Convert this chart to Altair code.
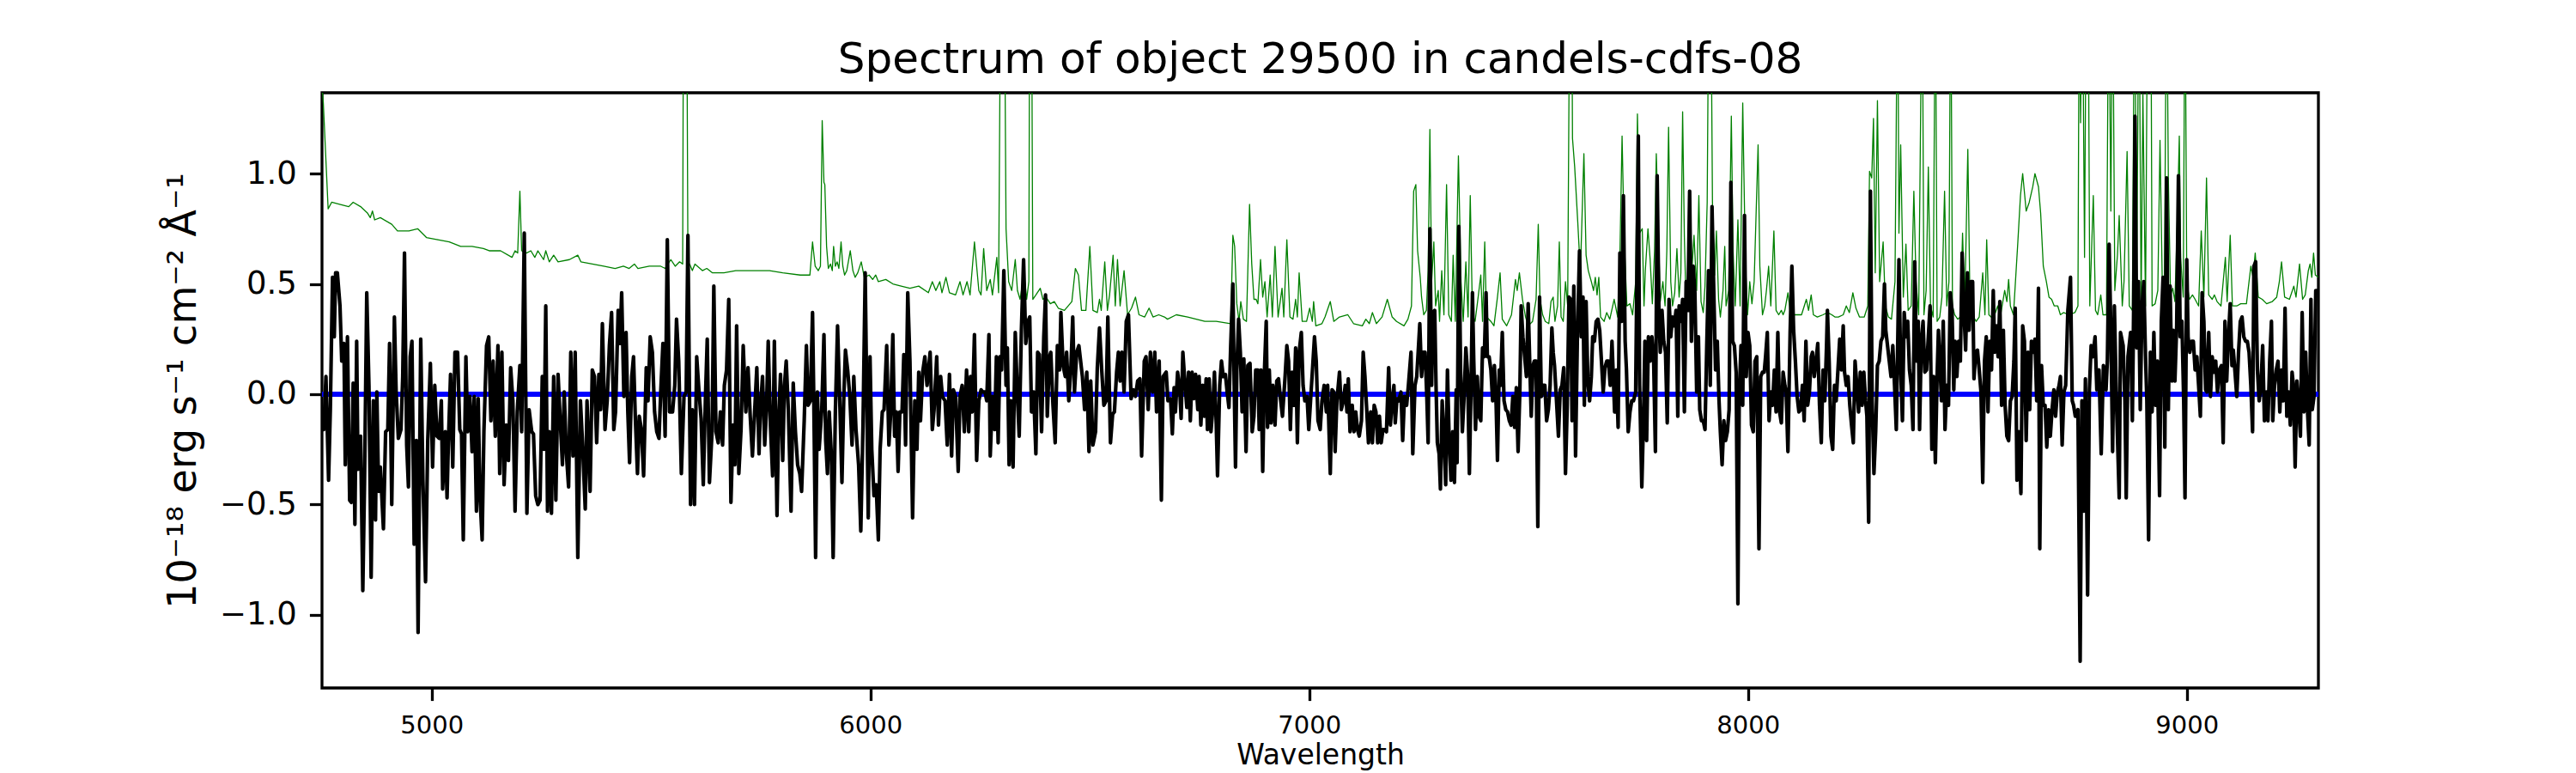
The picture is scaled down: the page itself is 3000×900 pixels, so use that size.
import altair as alt
import pandas as pd

TITLE = "Spectrum of object 29500 in candels-cdfs-08"
X_TICKS = [5000, 6000, 7000, 8000, 9000]
Y_TICKS = [-1.0, -0.5, 0.0, 0.5, 1.0]
X_DOMAIN = [4750, 9300]
Y_DOMAIN = [-1.331, 1.366]

black_seg1 = [(4750,-0.08),(4754,-0.16),(4759,0.08),(4765,-0.39),(4769,-0.07),(4774,0.53),(4778,0.26),(4781,0.55),(4785,0.55),(4791,0.40),(4795,0.15),(4800,0.23),(4803,-0.32),(4808,0.26),(4813,-0.48),(4817,-0.49),(4821,0.05),(4825,-0.59),(4829,0.24),(4832,-0.34),(4838,-0.19),(4843,-0.89),(4847,-0.39),(4852,0.46),(4857,0.04),(4862,-0.83),(4867,-0.03),(4872,-0.57),(4875,0.01),(4879,-0.44),(4883,-0.33),(4890,-0.61),(4895,-0.17),(4900,-0.16),(4904,0.23),(4909,-0.50),(4915,0.35),(4919,0.01),(4924,-0.20),(4930,-0.16),(4934,0.08),(4938,0.64),(4943,-0.23),(4947,-0.42),(4951,0.17),(4955,0.24),(4960,-0.68),(4965,-0.21),(4969,-1.08),(4975,0.25),(4980,-0.39),(4986,-0.85),(4991,-0.21),(4997,0.14),(5002,-0.33),(5007,0.04),(5012,-0.19),(5017,-0.20),(5022,-0.03),(5025,-0.43),(5031,-0.17),(5035,-0.47),(5038,-0.22),(5043,0.09),(5048,-0.33),(5053,0.19),(5059,0.19),(5064,-0.16),(5068,-0.18),(5072,-0.66),(5078,0.17),(5082,-0.17),(5087,-0.01),(5092,-0.26),(5097,-0.01),(5102,-0.53),(5106,-0.02),(5110,-0.46),(5115,-0.66),(5119,-0.17),(5125,0.22),(5130,0.26),(5135,-0.12),(5140,0.15),(5145,-0.19),(5151,0.22),(5155,-0.36),(5160,0.19),(5165,-0.41),(5170,-0.14),(5175,-0.30),(5180,0.12),(5185,-0.03),(5190,-0.53),(5195,-0.08),(5201,0.13),(5205,-0.17),(5211,0.73),(5217,-0.54),(5222,-0.07),(5228,-0.17),(5232,-0.18),(5237,-0.46),(5242,-0.50),(5247,-0.48),(5252,0.08),(5256,-0.25),(5260,0.40),(5264,-0.53),(5268,-0.17),(5273,-0.54),(5278,0.08),(5283,-0.48),(5288,0.09),(5293,-0.12),(5298,-0.32),(5302,0.01),(5307,-0.27),(5312,-0.42),(5317,0.19),(5322,-0.28),(5327,0.19),(5333,-0.74),(5339,-0.03),(5343,-0.19),(5350,-0.52),(5354,-0.03),(5361,-0.44),(5366,0.11),(5371,0.08),(5376,-0.22),(5381,0.09),(5385,-0.07),(5389,0.32),(5395,-0.16),(5400,-0.03),(5405,0.22),(5410,0.37),(5415,-0.16),(5419,-0.08),(5425,0.38),(5429,0.23),(5433,0.46),(5438,-0.01),(5443,0.28),(5447,-0.08),(5451,-0.31),(5456,0.08),(5460,0.17),(5464,-0.10),(5469,-0.36),(5473,-0.10),(5478,-0.16),(5483,-0.37),(5489,0.12),(5493,-0.03),(5498,0.26),(5503,0.19),(5508,-0.08),(5513,-0.17),(5518,-0.20),(5522,0.01),(5527,0.23),(5532,-0.19),(5537,0.70),(5542,-0.08),(5549,-0.08),(5554,0.04),(5558,0.34),(5563,0.15),(5569,-0.36),(5575,-0.01),(5580,0.01),(5584,0.72),(5590,-0.50),(5594,-0.07),(5599,-0.50),(5604,0.17),(5609,0.02),(5614,-0.11),(5619,-0.41),(5624,-0.01),(5628,0.25),(5633,-0.40),(5639,-0.17),(5643,0.49),(5648,-0.17),(5653,-0.22),(5658,-0.08),(5663,-0.23),(5667,0.04),(5672,0.11),(5677,0.43),(5682,-0.49),(5687,-0.14),(5691,-0.32),(5695,0.31),(5700,-0.36),(5705,-0.16),(5710,0.22),(5716,-0.08)]

black_seg2 = [(5721,0.12),(5726,-0.10),(5731,-0.28),(5736,-0.08),(5741,0.12),(5746,-0.27),(5749,-0.07),(5754,0.08),(5759,-0.23),(5763,-0.07),(5767,0.24),(5772,-0.14),(5777,-0.37),(5781,0.24),(5787,-0.55),(5791,-0.10),(5795,0.09),(5800,-0.30),(5804,0.04),(5808,0.15),(5813,-0.08),(5819,-0.53),(5824,0.05),(5829,-0.17),(5834,-0.32),(5839,-0.36),(5843,-0.44),(5849,-0.12),(5854,0.22),(5858,-0.05),(5863,-0.03),(5868,0.37),(5871,-0.05),(5875,-0.74),(5879,0.01),(5883,-0.25),(5889,-0.07),(5894,0.27),(5898,-0.21),(5902,-0.36),(5906,-0.08),(5911,-0.28),(5915,-0.74),(5920,-0.08),(5925,0.31),(5930,-0.03),(5935,-0.40),(5939,-0.03),(5943,0.20),(5948,0.11),(5953,-0.01),(5958,-0.23),(5962,0.08),(5967,-0.16),(5973,-0.32),(5978,-0.62),(5983,-0.14),(5988,0.55),(5992,-0.08),(5995,-0.56),(5999,0.17),(6003,-0.25),(6008,-0.46),(6013,-0.41),(6018,-0.66),(6022,-0.25),(6027,-0.08),(6031,-0.07),(6037,0.22),(6042,-0.23),(6046,-0.09),(6051,0.27),(6055,-0.19),(6059,-0.08),(6063,-0.35),(6067,-0.08),(6072,-0.08),(6076,0.18),(6080,-0.23),(6085,0.46),(6090,0.15),(6096,-0.56),(6101,-0.03),(6106,-0.25),(6110,0.10),(6114,-0.12),(6119,0.10),(6124,0.17),(6129,0.04),(6136,0.19),(6141,-0.16),(6145,-0.07),(6151,0.17),(6155,-0.14),(6160,0.08),(6164,-0.01),(6170,-0.03),(6175,-0.23),(6180,0.09),(6185,-0.28),(6189,0.02),(6194,-0.01),(6200,-0.35),(6204,-0.01),(6209,0.04),(6214,-0.17),(6219,0.11),(6224,-0.17),(6228,0.08),(6232,-0.08),(6237,0.27),(6242,-0.30),(6247,-0.03),(6252,0.02),(6256,0.01),(6261,0.01),(6265,-0.03),(6270,0.27),(6273,-0.28),(6278,-0.01),(6283,-0.16),(6287,0.17),(6291,-0.22),(6295,0.17),(6299,0.11),(6304,0.56),(6309,0.04),(6312,0.21),(6316,-0.32),(6320,-0.03),(6325,-0.33),(6330,0.28),(6335,-0.01),(6339,-0.19),(6344,0.29),(6349,0.61),(6354,0.23),(6359,0.33),(6363,0.35),(6367,-0.08),(6372,0.01),(6377,-0.27),(6381,0.19),(6385,0.18),(6390,-0.17),(6395,0.26),(6399,0.45),(6403,-0.10),(6408,0.17),(6411,0.19),(6416,-0.05),(6421,-0.22),(6426,0.22),(6431,0.11),(6434,0.37),(6439,0.13),(6444,0.08),(6447,0.19),(6452,-0.03),(6457,0.13),(6461,0.35),(6465,0.01),(6470,0.19),(6475,0.22),(6479,0.15),(6483,0.08),(6488,-0.07),(6493,0.10),(6498,-0.26),(6502,0.06),(6507,-0.23),(6513,-0.17),(6517,0.12),(6522,0.30),(6527,0.11),(6532,-0.05),(6537,-0.03),(6541,0.35),(6547,-0.22),(6552,-0.09),(6556,-0.08),(6561,0.10),(6565,0.19),(6569,0.06),(6573,0.19),(6578,0.01),(6583,0.33),(6588,0.36),(6594,-0.02),(6599,0.02),(6604,-0.01),(6609,0.06),(6614,0.07),(6618,-0.28),(6624,0.15),(6628,0.17),(6633,-0.07),(6638,0.19),(6643,0.01),(6648,0.19),(6652,-0.08),(6658,0.15),(6663,-0.48),(6667,0.08),(6674,0.10)]

black_seg3 = [(6678,-0.03),(6684,-0.02),(6688,-0.18),(6692,0.03),(6695,-0.08),(6700,0.10),(6705,0.02),(6708,-0.11),(6712,0.19),(6716,0.07),(6721,-0.06),(6725,0.10),(6729,-0.12),(6733,0.10),(6737,-0.02),(6741,0.09),(6746,-0.07),(6749,0.08),(6753,-0.14),(6757,0.04),(6761,-0.10),(6765,0.07),(6768,-0.16),(6772,0.07),(6776,-0.17),(6780,-0.07),(6784,0.10),(6788,-0.13),(6791,-0.37),(6796,0.04),(6800,0.15),(6804,0.08),(6809,0.09),(6813,0.01),(6817,-0.06),(6821,0.22),(6826,0.50),(6829,0.04),(6832,-0.33),(6835,0.11),(6839,0.34),(6843,0.19),(6847,-0.08),(6851,0.16),(6856,-0.26),(6860,0.13),(6865,0.14),(6870,-0.17),(6874,-0.10),(6878,0.11),(6883,0.11),(6886,-0.16),(6890,0.11),(6894,-0.35),(6898,0.11),(6902,0.33),(6905,-0.15),(6909,0.11),(6913,-0.13),(6917,0.04),(6922,-0.14),(6926,0.06),(6930,0.07),(6935,-0.03),(6939,-0.10),(6945,0.08),(6949,0.22),(6953,0.15),(6957,-0.16),(6961,0.10),(6965,-0.05),(6969,0.21),(6973,-0.22),(6977,0.19),(6982,0.28),(6986,0.04),(6990,-0.03),(6995,-0.01),(6999,-0.16),(7003,-0.03),(7008,0.13),(7012,0.26),(7016,0.15),(7020,-0.12),(7025,-0.16),(7029,-0.03),(7034,0.04),(7039,-0.08),(7042,0.04),(7048,-0.36),(7052,0.02),(7056,0.01),(7059,-0.26),(7063,-0.03),(7069,0.10),(7073,-0.07),(7078,-0.03),(7082,0.04),(7086,-0.08),(7089,0.07),(7093,-0.17),(7098,-0.05),(7102,-0.17),(7106,-0.08),(7110,-0.16),(7114,-0.19),(7119,-0.12),(7123,0.19),(7127,0.08),(7131,-0.07),(7135,-0.22),(7140,-0.08),(7144,-0.22),(7148,-0.05),(7152,-0.08),(7156,-0.22),(7160,-0.10),(7164,-0.22),(7168,-0.16),(7172,-0.16),(7176,-0.17),(7181,0.12),(7185,-0.14),(7189,-0.03),(7193,0.04),(7196,-0.13),(7200,-0.02),(7204,-0.03),(7209,0.01),(7213,-0.21),(7217,-0.01),(7222,-0.05),(7226,0.04),(7232,0.19),(7236,-0.27),(7241,0.04),(7245,0.08),(7248,0.18),(7252,0.32),(7256,0.08),(7260,0.19),(7264,0.19),(7268,-0.01),(7271,-0.22),(7275,0.75),(7279,0.04),(7282,0.37),(7286,0.38),(7289,0.04),(7292,-0.22),(7296,-0.27),(7299,-0.43),(7303,-0.03),(7307,-0.19),(7311,-0.41),(7315,0.11),(7319,-0.21),(7323,-0.39),(7327,-0.17),(7331,-0.40),(7335,0.02),(7337,-0.31),(7341,0.76),(7345,0.11),(7349,-0.17),(7353,-0.01),(7357,0.21),(7361,0.09),(7365,-0.36),(7369,0.06),(7372,0.46),(7375,0.15),(7379,-0.16),(7383,0.08),(7387,-0.10),(7391,-0.12),(7395,0.21),(7399,0.17),(7403,0.46),(7406,0.17),(7410,0.17),(7414,0.11),(7418,-0.03),(7422,0.13),(7426,-0.05),(7429,-0.30),(7433,0.11),(7436,0.04),(7440,0.28),(7444,-0.03),(7448,-0.07),(7452,-0.08),(7456,-0.12),(7460,-0.14),(7464,-0.01),(7468,-0.15),(7472,0.03),(7476,-0.26),(7480,0.01),(7483,0.40),(7487,0.26),(7491,0.17),(7495,0.08),(7499,0.41),(7503,0.11),(7506,-0.10),(7510,0.13),(7513,0.15),(7517,0.15),(7521,-0.60),(7525,0.44),(7529,-0.01),(7533,0.04),(7537,0.04),(7541,-0.12),(7545,-0.07),(7549,0.04),(7553,0.30),(7556,0.19)]

black_seg4 = [(7559,0.13),(7563,-0.01),(7568,-0.19),(7572,0.02),(7576,0.04),(7580,0.12),(7584,-0.36),(7588,-0.05),(7592,0.44),(7596,0.43),(7599,-0.12),(7603,0.49),(7607,-0.28),(7611,0.24),(7616,0.65),(7620,0.26),(7624,0.44),(7627,-0.05),(7631,0.42),(7635,0.06),(7639,-0.03),(7643,0.08),(7646,0.26),(7650,0.24),(7654,0.33),(7658,0.34),(7662,0.29),(7666,0.15),(7670,0.01),(7674,0.12),(7678,0.15),(7682,0.15),(7686,0.04),(7690,0.24),(7693,0.08),(7696,-0.08),(7700,0.11),(7704,-0.15),(7708,0.64),(7712,0.33),(7716,0.90),(7720,0.24),(7723,0.11),(7727,-0.17),(7731,-0.08),(7735,-0.03),(7739,-0.03),(7744,0.01),(7750,1.17),(7753,0.04),(7758,-0.42),(7762,-0.10),(7765,0.24),(7769,-0.21),(7773,0.26),(7777,0.15),(7781,0.26),(7785,0.15),(7789,-0.26),(7793,0.99),(7797,0.37),(7800,0.19),(7804,0.38),(7808,0.24),(7812,0.19),(7816,-0.13),(7820,0.43),(7824,0.26),(7828,0.35),(7832,0.31),(7836,0.38),(7840,-0.10),(7843,0.40),(7847,0.33),(7851,0.43),(7855,-0.08),(7859,0.51),(7863,0.38),(7867,0.92),(7871,0.24),(7875,0.58),(7879,0.46),(7883,0.01),(7887,0.26),(7890,-0.07),(7894,-0.12),(7898,-0.12),(7902,-0.16),(7906,0.22),(7910,0.56),(7914,0.04),(7918,0.85),(7922,0.47),(7926,0.11),(7930,0.24),(7934,-0.03),(7937,-0.17),(7941,-0.32),(7945,-0.12),(7949,-0.21),(7953,-0.17),(7957,-0.07),(7961,0.96),(7965,0.24),(7969,0.22),(7973,0.10),(7977,-0.95),(7980,-0.01),(7984,0.22),(7988,-0.05),(7992,0.81),(7996,0.08),(8000,0.28),(8004,0.22),(8008,-0.14),(8012,-0.17),(8016,0.15),(8020,0.17),(8025,-0.70),(8029,0.08),(8033,0.10),(8037,0.10),(8040,0.17),(8044,0.28),(8048,-0.12),(8052,0.01),(8056,-0.05),(8060,0.11),(8064,-0.08),(8068,0.28),(8072,-0.08),(8076,-0.13),(8080,0.10),(8084,0.04),(8087,0.01),(8091,-0.26),(8096,0.28),(8100,0.58),(8104,0.29),(8108,0.15),(8112,-0.01),(8116,-0.08),(8120,-0.07),(8124,0.04),(8128,-0.12),(8132,0.24),(8136,-0.05),(8140,0.01),(8144,0.17),(8147,0.19),(8151,0.08),(8155,0.15),(8159,0.23),(8163,-0.05),(8167,-0.22),(8171,0.11),(8175,-0.03),(8179,0.22),(8181,0.38),(8185,0.15),(8189,-0.19),(8193,-0.25),(8197,0.04),(8201,-0.03),(8205,0.11),(8209,0.25),(8213,0.11),(8217,0.31),(8220,0.10),(8224,0.04),(8228,0.08),(8232,-0.05),(8236,-0.14),(8240,-0.22),(8244,0.15),(8248,0.04),(8252,-0.08),(8256,0.10),(8260,-0.05),(8264,0.10),(8268,-0.03),(8271,-0.10),(8275,-0.58),(8279,0.92),(8283,-0.03),(8287,-0.36),(8291,-0.17),(8295,0.13),(8299,0.15),(8303,0.24),(8307,0.26),(8311,0.50),(8314,0.29),(8318,0.22),(8322,0.15),(8326,0.08),(8330,0.22),(8334,0.04),(8338,-0.16),(8342,0.33),(8344,0.61),(8348,0.11),(8352,-0.12),(8356,0.37),(8360,0.26),(8364,0.33),(8368,0.11),(8372,0.04),(8376,-0.16),(8380,0.60),(8384,0.15),(8388,0.33),(8391,-0.16),(8395,0.24),(8399,0.33),(8403,0.10),(8407,0.11),(8411,0.26),(8415,0.40),(8419,-0.25),(8423,0.08),(8427,-0.31),(8431,0.08),(8434,0.29)]

black_seg5 = [(8441,-0.03),(8445,0.33),(8449,-0.16),(8453,0.04),(8457,-0.05),(8461,0.46),(8465,0.38),(8469,0.02),(8472,0.24),(8476,0.08),(8480,0.24),(8484,0.15),(8488,0.64),(8492,0.38),(8496,0.20),(8500,0.55),(8504,0.29),(8508,0.51),(8512,0.51),(8515,0.07),(8519,0.19),(8523,0.20),(8527,0.11),(8531,0.01),(8535,-0.40),(8539,0.15),(8543,0.26),(8547,-0.08),(8551,0.24),(8555,0.11),(8559,0.47),(8562,0.19),(8566,0.31),(8570,0.17),(8574,0.42),(8578,-0.05),(8582,0.29),(8586,-0.05),(8590,-0.19),(8594,-0.21),(8598,-0.03),(8602,-0.01),(8606,0.15),(8609,0.39),(8613,-0.39),(8617,-0.17),(8622,-0.45),(8626,0.31),(8630,0.24),(8634,-0.21),(8638,0.19),(8642,-0.07),(8646,0.24),(8650,0.19),(8654,0.25),(8658,-0.03),(8662,0.48),(8665,-0.70),(8669,0.13),(8673,-0.05),(8677,-0.05),(8681,-0.24),(8685,-0.07),(8689,-0.19),(8693,-0.07),(8697,0.02),(8701,-0.10),(8705,0.01),(8709,0.04),(8712,0.08),(8716,-0.23),(8720,0.01),(8724,0.04),(8729,0.38),(8735,0.53),(8739,-0.03),(8742,-0.05),(8746,-0.10),(8752,-0.07),(8757,-1.21),(8761,-0.03),(8765,-0.53),(8769,0.07),(8774,-0.91),(8778,0.02),(8782,0.22),(8786,0.17),(8791,0.26),(8795,0.02),(8800,0.11),(8805,-0.27),(8810,0.13),(8816,0.02),(8819,0.15),(8823,0.68),(8827,0.29),(8831,-0.26),(8835,0.40),(8840,-0.05),(8846,-0.47),(8849,0.28),(8855,0.22),(8859,-0.03),(8862,-0.47),(8866,0.17),(8872,0.28),(8876,-0.12),(8879,0.40),(8882,1.26),(8886,0.21),(8890,0.51),(8894,-0.07),(8898,0.40),(8902,0.51),(8906,0.17),(8909,-0.03),(8913,-0.66),(8917,0.19),(8921,-0.08),(8925,0.28),(8929,-0.05),(8933,0.15),(8938,-0.46),(8942,0.33),(8946,0.53),(8950,-0.24),(8954,0.98),(8958,-0.07),(8962,0.49),(8966,0.06),(8969,0.29),(8973,0.06),(8977,0.31),(8981,0.99),(8985,0.26),(8989,0.33),(8993,-0.03),(8996,-0.47),(9000,0.61),(9003,0.26),(9007,0.19),(9011,0.24),(9015,0.24),(9019,0.11),(9023,0.17),(9027,0.04),(9031,-0.10),(9035,0.46),(9039,0.33),(9043,0.02),(9046,0.01),(9050,0.28),(9054,-0.01),(9058,0.17),(9062,0.10),(9066,0.15),(9070,0.01),(9074,0.11),(9079,0.13),(9083,-0.22),(9087,0.33),(9091,0.06),(9095,0.26),(9099,0.41),(9103,0.13),(9106,0.20),(9110,0.10),(9114,-0.01),(9118,0.19),(9122,0.33),(9126,0.35),(9130,0.26),(9134,0.24),(9138,0.24),(9142,0.19),(9146,0.04),(9150,-0.17),(9153,0.58),(9157,0.60),(9161,0.11),(9165,-0.03),(9169,0.04),(9173,0.22),(9177,-0.12),(9181,0.01),(9185,-0.12),(9189,0.15),(9193,0.33),(9196,-0.12),(9200,0.04),(9204,0.11),(9208,0.15),(9212,-0.08),(9216,0.11),(9220,-0.03),(9224,0.39),(9228,-0.10),(9232,0.01),(9236,-0.14),(9240,0.10),(9243,0.04),(9247,-0.33),(9251,0.06),(9255,-0.05),(9259,-0.19),(9263,0.37),(9267,-0.08),(9271,0.19),(9275,-0.07),(9279,-0.23),(9283,0.43),(9286,-0.07),(9290,-0.01),(9294,0.47),(9298,0.47)]

# noise / sky spectrum (wavelength, flux)
green_seg1 = [(4750,1.40),(4753,1.32),(4764,0.84),(4772,0.87),(4792,0.86),(4811,0.85),(4821,0.87),(4838,0.85),(4854,0.82),(4860,0.80),(4865,0.83),(4870,0.79),(4883,0.80),(4909,0.77),(4922,0.74),(4948,0.74),(4968,0.75),(4988,0.71),(5014,0.70),(5040,0.69),(5066,0.67),(5092,0.67),(5118,0.66),(5131,0.65),(5157,0.65),(5183,0.62),(5190,0.65),(5196,0.64),(5201,0.92),(5205,0.65),(5216,0.64),(5226,0.65),(5235,0.62),(5242,0.65),(5255,0.61),(5260,0.65),(5268,0.60),(5278,0.63),(5288,0.60),(5314,0.61),(5333,0.63),(5340,0.60),(5366,0.59),(5392,0.58),(5418,0.57),(5437,0.58),(5450,0.57),(5462,0.59),(5470,0.57),(5496,0.58),(5522,0.58),(5532,0.57),(5545,0.61),(5555,0.58),(5565,0.60),(5572,0.59),(5574,2.0),(5581,2.0),(5584,0.59),(5588,0.59),(5594,0.56),(5600,0.59),(5617,0.56),(5627,0.57),(5640,0.55),(5666,0.55),(5693,0.56),(5718,0.56)]

green_seg2 = [(5728,0.56),(5770,0.56),(5800,0.55),(5840,0.54),(5862,0.54),(5868,0.69),(5874,0.58),(5881,0.56),(5886,0.58),(5890,1.24),(5894,0.96),(5896,0.95),(5900,0.67),(5904,0.57),(5909,0.59),(5913,0.56),(5916,0.67),(5920,0.58),(5924,0.60),(5928,0.57),(5933,0.69),(5937,0.58),(5941,0.54),(5946,0.56),(5954,0.65),(5960,0.56),(5965,0.53),(5971,0.55),(5979,0.60),(5986,0.53),(5997,0.54),(6005,0.52),(6012,0.54),(6018,0.51),(6035,0.52),(6051,0.50),(6070,0.49),(6090,0.48),(6110,0.49),(6132,0.46),(6141,0.51),(6149,0.47),(6158,0.51),(6163,0.46),(6172,0.53),(6180,0.46),(6194,0.45),(6204,0.51),(6211,0.45),(6220,0.51),(6227,0.45),(6237,0.69),(6247,0.47),(6252,0.45),(6258,0.66),(6265,0.47),(6273,0.52),(6278,0.45),(6288,0.62),(6292,0.46),(6297,2.0),(6305,2.0),(6309,0.75),(6315,0.51),(6322,0.47),(6330,0.61),(6335,0.47),(6341,0.43),(6350,0.55),(6356,0.43),(6361,0.51),(6363,2.0),(6367,2.0),(6370,0.43),(6377,0.45),(6387,0.48),(6393,0.43),(6400,0.44),(6410,0.41),(6419,0.42),(6428,0.39),(6442,0.38),(6459,0.42),(6467,0.57),(6474,0.54),(6481,0.38),(6491,0.38),(6500,0.67),(6507,0.38),(6517,0.37),(6522,0.43),(6526,0.38),(6534,0.60),(6540,0.38),(6545,0.45),(6553,0.63),(6558,0.40),(6563,0.61),(6569,0.40),(6578,0.56),(6586,0.36),(6595,0.39),(6604,0.44),(6612,0.36),(6625,0.35),(6635,0.39),(6644,0.35),(6657,0.36),(6670,0.35)]

green_seg3 = [(6677,0.34),(6697,0.36),(6723,0.35),(6762,0.33),(6788,0.33),(6821,0.32),(6826,0.72),(6830,0.67),(6835,0.41),(6840,0.33),(6844,0.42),(6850,0.34),(6857,0.33),(6864,0.86),(6869,0.59),(6874,0.43),(6879,0.43),(6883,0.41),(6889,0.61),(6894,0.44),(6899,0.51),(6904,0.35),(6911,0.54),(6916,0.35),(6922,0.67),(6929,0.35),(6938,0.48),(6942,0.35),(6949,0.70),(6956,0.35),(6963,0.34),(6969,0.43),(6973,0.35),(6977,0.55),(6984,0.33),(6994,0.33),(7001,0.39),(7007,0.33),(7010,0.42),(7015,0.31),(7029,0.32),(7036,0.35),(7048,0.42),(7056,0.33),(7069,0.35),(7088,0.36),(7101,0.32),(7121,0.31),(7129,0.34),(7137,0.32),(7144,0.37),(7153,0.32),(7166,0.35),(7178,0.43),(7189,0.35),(7199,0.33),(7216,0.31),(7225,0.34),(7233,0.40),(7238,0.92),(7243,0.95),(7247,0.65),(7253,0.53),(7256,0.44),(7261,0.36),(7267,0.38),(7271,0.56),(7275,1.20),(7279,0.51),(7284,0.69),(7288,0.40),(7294,0.47),(7297,0.33),(7302,0.56),(7307,0.36),(7313,0.95),(7318,0.36),(7324,0.33),(7328,0.63),(7333,0.33),(7340,1.08),(7346,0.51),(7351,0.33),(7357,0.60),(7362,0.35),(7367,0.90),(7372,0.36),(7378,0.33),(7385,0.44),(7391,0.54),(7395,0.33),(7400,0.69),(7404,0.35),(7414,0.33),(7421,0.31),(7429,0.44),(7435,0.55),(7440,0.34),(7450,0.31),(7461,0.36),(7470,0.52),(7474,0.47),(7479,0.55),(7486,0.43),(7493,0.35),(7499,0.31),(7509,0.33),(7517,0.43),(7522,0.77),(7526,0.43),(7532,0.36),(7538,0.33),(7546,0.32),(7551,0.42),(7556,0.44)]

green_seg4 = [(7560,0.33),(7566,0.40),(7570,0.69),(7574,0.35),(7579,0.33),(7584,0.51),(7589,0.40),(7594,2.0),(7598,2.0),(7600,1.16),(7605,1.03),(7612,0.78),(7618,0.55),(7626,1.09),(7631,0.63),(7636,0.56),(7643,0.51),(7648,0.47),(7652,0.53),(7656,0.45),(7660,0.53),(7664,0.35),(7672,0.33),(7678,0.37),(7685,0.34),(7695,0.43),(7703,0.35),(7708,0.62),(7713,1.17),(7718,0.69),(7724,0.40),(7731,0.41),(7737,0.36),(7744,0.51),(7748,1.27),(7753,0.73),(7759,0.75),(7763,0.40),(7766,0.56),(7772,0.75),(7777,0.61),(7782,0.41),(7787,0.65),(7791,1.09),(7796,0.73),(7800,0.42),(7806,0.51),(7811,0.40),(7815,0.65),(7819,1.21),(7824,0.51),(7828,0.40),(7833,0.46),(7838,0.66),(7843,0.44),(7847,0.55),(7851,1.28),(7855,0.71),(7859,0.40),(7864,0.56),(7868,0.90),(7872,0.56),(7877,0.72),(7883,0.47),(7888,0.90),(7893,0.42),(7898,0.37),(7902,0.49),(7907,0.87),(7911,2.0),(7915,2.0),(7919,0.87),(7924,0.54),(7928,0.74),(7933,0.43),(7937,0.35),(7943,0.47),(7947,0.67),(7950,0.40),(7956,0.47),(7962,1.26),(7966,0.65),(7971,0.40),(7977,0.79),(7982,0.40),(7988,1.32),(7994,0.60),(7999,0.36),(8004,0.51),(8009,0.41),(8014,0.51),(8023,1.13),(8027,0.58),(8033,0.36),(8038,0.40),(8042,0.47),(8047,0.58),(8052,0.40),(8059,0.74),(8064,0.38),(8070,0.36),(8076,0.38),(8080,0.36),(8084,0.38),(8091,0.46),(8097,0.36),(8106,0.36),(8112,0.36),(8122,0.36),(8133,0.43),(8138,0.38),(8144,0.45),(8149,0.36),(8158,0.35),(8171,0.36),(8181,0.37),(8191,0.36),(8198,0.35),(8206,0.35),(8217,0.36),(8224,0.40),(8231,0.37),(8239,0.46),(8246,0.39),(8254,0.35),(8265,0.35),(8273,0.40),(8277,1.01),(8282,0.98),(8286,1.25),(8290,0.55),(8295,1.33),(8300,0.51),(8308,0.69),(8313,0.40),(8320,0.35),(8327,0.34),(8335,0.51),(8341,2.0),(8344,0.73),(8348,1.13),(8354,0.44),(8360,0.68),(8365,0.38),(8372,0.40),(8378,0.92),(8383,0.51),(8389,0.36),(8397,2.0),(8401,0.36),(8406,0.47),(8411,1.03),(8416,0.40),(8422,0.35),(8427,2.0),(8431,0.33),(8437,0.35)]

green_seg5 = [(8442,0.44),(8448,0.92),(8453,0.40),(8458,0.51),(8462,2.0),(8466,0.40),(8471,0.36),(8478,0.34),(8484,0.35),(8489,0.73),(8494,0.40),(8501,1.11),(8506,0.40),(8514,0.35),(8520,0.33),(8527,0.35),(8535,0.55),(8540,0.36),(8544,0.70),(8549,0.36),(8559,0.34),(8569,0.40),(8575,0.35),(8585,0.47),(8590,0.42),(8594,0.52),(8598,0.40),(8605,0.36),(8615,0.69),(8621,0.90),(8626,1.00),(8634,0.83),(8641,0.87),(8649,0.94),(8654,1.00),(8662,0.94),(8667,0.82),(8673,0.58),(8680,0.51),(8686,0.44),(8692,0.43),(8698,0.40),(8706,0.40),(8712,0.36),(8719,0.37),(8732,0.36),(8745,0.37),(8752,0.40),(8755,2.0),(8758,1.23),(8762,2.0),(8767,0.62),(8771,2.0),(8775,2.0),(8779,0.40),(8787,0.90),(8792,0.38),(8797,0.36),(8804,0.45),(8809,0.36),(8817,0.36),(8822,2.0),(8827,0.83),(8831,2.0),(8836,0.47),(8842,0.63),(8846,0.81),(8853,0.40),(8857,0.51),(8864,1.10),(8869,0.40),(8876,0.38),(8881,2.0),(8886,0.51),(8891,2.0),(8896,0.40),(8900,1.36),(8906,0.40),(8911,2.0),(8918,2.0),(8921,0.40),(8928,0.41),(8934,0.47),(8939,1.15),(8945,0.40),(8949,0.47),(8954,2.0),(8958,0.98),(8963,0.45),(8968,0.48),(8973,0.42),(8979,0.83),(8983,1.17),(8986,0.62),(8992,0.44),(8996,2.0),(9000,0.51),(9006,0.43),(9013,0.45),(9019,0.43),(9027,0.40),(9033,0.74),(9039,0.44),(9045,0.98),(9050,0.45),(9058,0.43),(9063,0.45),(9069,0.42),(9078,0.40),(9088,0.62),(9092,0.42),(9099,0.72),(9104,0.40),(9114,0.40),(9123,0.41),(9136,0.41),(9146,0.58),(9151,0.53),(9156,0.64),(9163,0.44),(9172,0.43),(9182,0.41),(9195,0.42),(9205,0.44),(9211,0.51),(9216,0.60),(9223,0.44),(9234,0.43),(9244,0.49),(9249,0.44),(9257,0.59),(9264,0.43),(9270,0.45),(9277,0.56),(9281,0.59),(9285,0.53),(9289,0.64),(9293,0.54),(9300,0.53)]

# zero-level model line
zero_line = [(4750, 0.0), (9300, 0.0)]


def frame(*segments):
    rows = [p for seg in segments for p in seg]
    return pd.DataFrame(rows, columns=["wavelength", "flux"])


black_df = frame(black_seg1, black_seg2, black_seg3, black_seg4, black_seg5)
green_df = frame(green_seg1, green_seg2, green_seg3, green_seg4, green_seg5)
zero_df = frame(zero_line)

FONT = "DejaVu Sans"

x_enc = alt.X(
    "wavelength:Q",
    scale=alt.Scale(domain=X_DOMAIN, nice=False, zero=False),
    axis=alt.Axis(
        values=X_TICKS, format="d", title="Wavelength",
        labelFontSize=29, labelPadding=15, titleFontSize=33,
        titleY=88, titleBaseline="alphabetic",
    ),
)
y_enc = alt.Y(
    "flux:Q",
    scale=alt.Scale(domain=Y_DOMAIN, nice=False, zero=False),
    axis=alt.Axis(
        values=Y_TICKS, format=".1f",
        title="10\u207b\u00b9\u2078 erg s\u207b\u00b9 cm\u207b\u00b2 \u00c5\u207b\u00b9",
        labelFontSize=37, labelPadding=15, titleFontSize=46,
        titleX=-148, titleY=346.5, titleAngle=270, titleAlign="center",
        titleBaseline="alphabetic",
    ),
)

green = alt.Chart(green_df).mark_line(
    color="#008000", strokeWidth=1.3, clip=True, strokeJoin="round"
).encode(x=x_enc, y=y_enc, order="wavelength:Q")

zero = alt.Chart(zero_df).mark_line(
    color="#0000ff", strokeWidth=6.2, clip=True
).encode(x=x_enc, y=y_enc)

black = alt.Chart(black_df).mark_line(
    color="black", strokeWidth=4.2, clip=True, strokeJoin="round"
).encode(x=x_enc, y=y_enc, order="wavelength:Q")

chart = alt.layer(green, zero, black).properties(
    width=2325,
    height=693,
    autosize=alt.AutoSizeParams(type="none"),
    padding={"left": 367, "top": 100, "right": 292, "bottom": 98},
    title=alt.TitleParams(
        text=TITLE, fontSize=50, font=FONT, fontWeight="normal",
        color="black", offset=24, baseline="alphabetic", frame="group",
        anchor="middle", dy=51,
    ),
).configure_view(
    stroke="black", strokeWidth=3.3
).configure_axis(
    domain=False, grid=False, ticks=True, tickColor="black", tickWidth=3.3,
    tickSize=14.6, labelColor="black", titleColor="black", labelFont=FONT,
    titleFont=FONT, titleFontWeight="normal",
)

chart.save("out.html", embed_options={"renderer": "svg", "actions": False})
